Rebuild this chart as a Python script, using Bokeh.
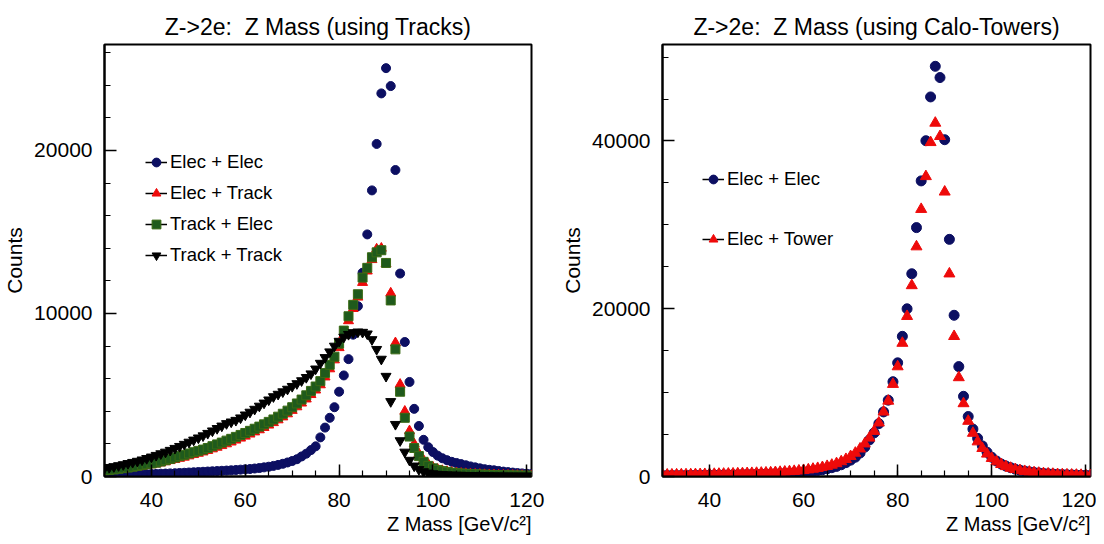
from bokeh.plotting import figure
from bokeh.layouts import row
from bokeh.models import FixedTicker, Legend, LegendItem, Title, Range1d
from bokeh.embed import file_html
from bokeh.resources import INLINE

FONT = "Liberation Sans"

# bin centres (GeV/c^2)
mass = list(range(30, 122))

# ---- left panel: Z mass using tracks ----
elec_elec_trk = [55,
    60, 70, 80, 90, 100, 110, 120, 130, 140, 150,
    160, 170, 180, 190, 200, 215, 230, 245, 260, 275,
    290, 305, 320, 335, 350, 365, 380, 400, 420, 440,
    460, 490, 520, 560, 600, 650, 710, 780, 860, 950,
    1060, 1230, 1400, 1620, 1850, 2400, 3000, 3600, 4250, 5200,
    6200, 7200, 8700, 10450, 12500, 14850, 17550, 20400, 23500, 25050,
    23950, 18800, 12450, 8250, 5800, 4150, 3100, 2250, 1800, 1500,
    1280, 1120, 1000, 900, 830, 760, 690, 620, 560, 500,
    450, 410, 380, 340, 300, 270, 240, 210, 190, 170, 150]
elec_track = [350,
    380, 400, 430, 460, 500, 540, 580, 620, 670, 720,
    770, 830, 900, 970, 1040, 1110, 1180, 1260, 1340, 1420,
    1500, 1590, 1690, 1790, 1890, 2000, 2110, 2230, 2350, 2470,
    2600, 2730, 2860, 3000, 3150, 3300, 3470, 3650, 3840, 4050,
    4270, 4500, 4750, 5020, 5300, 5620, 6100, 6600, 7150, 7900,
    8700, 9550, 10300, 11000, 11900, 12600, 13300, 13950, 14000, 13050,
    11250, 8200, 5650, 4000, 2800, 2000, 1400, 1000, 750, 560,
    440, 360, 300, 255, 220, 195, 175, 158, 143, 130,
    118, 108, 99, 91, 84, 78, 72, 67, 62, 58, 54]
track_elec = [370,
    400, 430, 470, 510, 550, 600, 650, 700, 750, 800,
    850, 920, 1000, 1080, 1160, 1250, 1330, 1410, 1490, 1570,
    1650, 1750, 1860, 1970, 2080, 2200, 2310, 2430, 2550, 2670,
    2800, 2930, 3060, 3200, 3350, 3500, 3670, 3850, 4040, 4250,
    4480, 4720, 4980, 5250, 5520, 5850, 6350, 6850, 7350, 8150,
    8950, 9830, 10530, 11180, 12200, 12800, 13450, 13750, 13880, 13100,
    10800, 7800, 5200, 3600, 2450, 1750, 1250, 900, 650, 500,
    400, 330, 280, 240, 210, 185, 165, 150, 135, 122,
    110, 100, 92, 85, 78, 72, 66, 61, 56, 52, 48]
track_track = [520,
    560, 610, 670, 730, 800, 870, 940, 1020, 1110, 1200,
    1300, 1400, 1500, 1610, 1730, 1850, 1980, 2110, 2240, 2370,
    2500, 2650, 2800, 2950, 3100, 3250, 3350, 3450, 3600, 3780,
    3950, 4130, 4320, 4510, 4700, 4900, 5050, 5200, 5360, 5530,
    5700, 5880, 6080, 6300, 6600, 6950, 7300, 7650, 8000, 8300,
    8550, 8720, 8830, 8870, 8850, 8750, 8400, 7800, 7200, 6150,
    4600, 3200, 2200, 1500, 1000, 650, 430, 300, 220, 170,
    140, 120, 105, 95, 85, 78, 72, 66, 61, 56,
    52, 48, 45, 42, 39, 36, 34, 32, 30, 28, 26]

# ---- right panel: Z mass using calo towers ----
elec_elec_calo = [
    110, 114, 118, 122, 127, 132, 138, 144, 150, 156,
    163, 170, 178, 185, 195, 205, 215, 225, 235, 245,
    255, 270, 285, 300, 320, 340, 360, 390, 420, 460,
    510, 570, 640, 720, 810, 920, 1050, 1200, 1400, 1650,
    1950, 2300, 2800, 3500, 4360, 5200, 6300, 7700, 9100, 11300,
    13550, 16710, 19990, 24170, 29670, 35240, 40030, 45250, 48900, 47560,
    40150, 28270, 19220, 13100, 9560, 7150, 5650, 4550, 3650, 2900,
    2300, 1850, 1500, 1250, 1050, 880, 750, 640, 550, 480,
    420, 370, 330, 290, 260, 230, 210, 190, 170, 155, 140, 130]
elec_tower = [
    195, 200, 207, 214, 221, 228, 236, 244, 252, 260,
    270, 280, 290, 300, 312, 325, 340, 355, 370, 385,
    400, 420, 440, 460, 490, 520, 550, 590, 630, 680,
    740, 810, 890, 980, 1090, 1220, 1370, 1550, 1780, 2050,
    2400, 2800, 3300, 3900, 4600, 5400, 6400, 7700, 9000, 11000,
    13100, 15900, 19100, 22770, 27400, 31860, 35770, 39830, 42140, 40550,
    33930, 24170, 16710, 11800, 8700, 6600, 5170, 4150, 3360, 2690,
    2170, 1770, 1450, 1200, 1000, 850, 720, 620, 540, 470,
    410, 360, 320, 285, 255, 230, 210, 190, 175, 160, 148, 138]

for arr in (elec_elec_trk, elec_track, track_elec, track_track, elec_elec_calo, elec_tower):
    assert len(arr) == len(mass), len(arr)

NAVY = "#0c0f62"
RED = "#ee0a0a"
GREEN = "#1f5a1c"


def make_fig(title, width, ymax, yticks, yminor, bl, br):
    p = figure(width=width, height=542, output_backend="svg", toolbar_location=None,
               x_range=Range1d(30, 121), y_range=Range1d(0, ymax),
               min_border_left=bl, min_border_right=br, min_border_top=44, min_border_bottom=66)
    p.title.text = title
    p.title.align = "center"
    p.title.text_font = FONT
    p.title.text_font_size = "23px"
    p.title.text_font_style = "normal"
    p.title.text_color = "black"
    p.xgrid.visible = False
    p.ygrid.visible = False
    p.outline_line_color = "black"
    p.outline_line_width = 2
    p.background_fill_color = "white"
    p.border_fill_color = "white"
    p.xaxis.ticker = FixedTicker(ticks=[40, 60, 80, 100, 120], minor_ticks=list(range(30, 125, 5)))
    p.yaxis.ticker = FixedTicker(ticks=yticks, minor_ticks=yminor)
    for ax in (p.xaxis[0], p.yaxis[0]):
        ax.major_tick_in = 12
        ax.major_tick_out = 0
        ax.minor_tick_in = 6
        ax.minor_tick_out = 0
        ax.axis_line_width = 2
        ax.major_tick_line_width = 1.5
        ax.minor_tick_line_width = 1.2
        ax.major_label_text_font = FONT
        ax.major_label_text_font_size = "21px"
        ax.major_label_text_color = "black"
    p.xaxis.major_label_standoff = 16
    p.yaxis.major_label_standoff = 12
    p.yaxis.axis_label = "Counts"
    p.yaxis.axis_label_text_font = FONT
    p.yaxis.axis_label_text_font_size = "21px"
    p.yaxis.axis_label_text_font_style = "normal"
    p.yaxis.axis_label_text_color = "black"
    p.yaxis.axis_label_standoff = 5
    xt = Title(text="Z Mass [GeV/c²]", align="right", text_font=FONT, standoff=2,
               text_font_size="20px", text_font_style="normal", text_color="black")
    p.add_layout(xt, "below")
    return p


def legend_line(p, xs, ys):
    # a one-point line: draws nothing in the plot, only the legend stroke
    return p.line(xs[:1], ys[:1], line_color="black", line_width=1.5)


# ---------------- left ----------------
p1 = make_fig("Z->2e:\u00a0 Z Mass (using Tracks)", 558, 26500, [0, 10000, 20000],
              list(range(0, 27000, 2000)), 102, 27)
r_ee = p1.scatter(mass, elec_elec_trk, marker="circle", size=9, fill_color=NAVY, line_color=NAVY)
r_et = p1.scatter(mass, elec_track, marker="triangle", size=10, fill_color=RED, line_color=RED)
r_te = p1.scatter(mass, track_elec, marker="square", size=9, fill_color=GREEN, line_color="#3a6a14")
r_tt = p1.scatter(mass, track_track, marker="inverted_triangle", size=10, fill_color="black", line_color="black")
leg1 = Legend(items=[
    LegendItem(label="Elec + Elec", renderers=[legend_line(p1, mass, elec_elec_trk), r_ee]),
    LegendItem(label="Elec + Track", renderers=[legend_line(p1, mass, elec_track), r_et]),
    LegendItem(label="Track + Elec", renderers=[legend_line(p1, mass, track_elec), r_te]),
    LegendItem(label="Track + Track", renderers=[legend_line(p1, mass, track_track), r_tt]),
], location=(41, 210))
p1.add_layout(leg1)

# ---------------- right ----------------
p2 = make_fig("Z->2e:\u00a0 Z Mass (using Calo-Towers)", 538, 51500, [0, 20000, 40000],
              list(range(0, 52000, 5000)), 100, 6)
r_ee2 = p2.scatter(mass, elec_elec_calo, marker="circle", size=10, fill_color=NAVY, line_color=NAVY)
r_tw = p2.scatter(mass, elec_tower, marker="triangle", size=11, fill_color=RED, line_color=RED)
leg2 = Legend(items=[
    LegendItem(label="Elec + Elec", renderers=[legend_line(p2, mass, elec_elec_calo), r_ee2]),
    LegendItem(label="Elec + Tower", renderers=[legend_line(p2, mass, elec_tower), r_tw]),
], location=(40, 226))
p2.add_layout(leg2)

for lg, sp in ((leg1, 9), (leg2, 38)):
    lg.glyph_width = 22
    lg.glyph_height = 22
    lg.label_height = 22
    lg.label_standoff = 3
    lg.spacing = sp
    lg.padding = 0
    lg.margin = 0
    lg.border_line_alpha = 0
    lg.background_fill_alpha = 0
    lg.label_text_font = FONT
    lg.label_text_font_size = "18.5px"
    lg.label_text_color = "black"

layout = row(p1, p2)
open("out.html", "w").write(file_html(layout, INLINE))
